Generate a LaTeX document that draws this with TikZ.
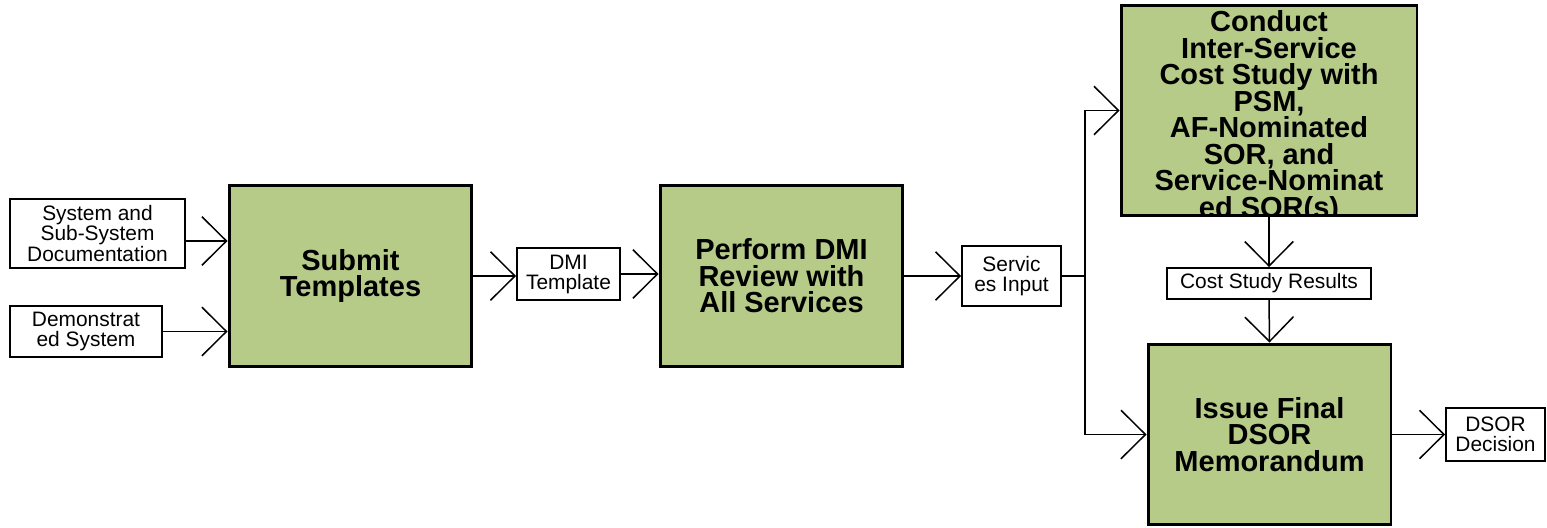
\documentclass[tikz,border=0pt]{standalone}
\usepackage{fontspec}
\setmainfont{Liberation Sans}
\usetikzlibrary{positioning, calc, arrows.meta}
\definecolor{taskgreen}{RGB}{183,203,137}

\begin{document}
\begin{tikzpicture}[x=0.02cm, y=-0.02cm,
    task/.style={draw, line width=1.7pt, fill=taskgreen, align=center, inner sep=0pt,
        font=\fontsize{16.5}{15.1}\selectfont\bfseries,
        minimum width=4.86cm, minimum height=3.64cm},
    data/.style={draw, line width=1.1pt, fill=white, align=center, inner sep=0pt,
        font=\fontsize{11.9}{11.4}\selectfont},
    flow/.style={line width=0.85pt, -{Straight Barb[length=0.49cm, width=0.97cm]}}]
    \useasboundingbox (0,0) rectangle (1547,527);

    % inputs and first step
    \node[data, minimum width=3.5cm, minimum height=1.38cm] (sysdoc) at (97.5,233.5)
        {System and\\Sub-System\\Documentation};
    \node[data, minimum width=3.04cm, minimum height=1.02cm] (demo) at (86,331.5)
        {Demonstrat\\ed System};
    \node[task] (submit) at (350.5,276) {Submit\\Templates};

    % review
    \node[data, minimum width=2.06cm, minimum height=1.04cm] (dmi) at (568.5,274)
        {DMI\\Template};
    \node[task] (review) at (781.5,276) {Perform DMI\\Review with\\All Services};
    \node[data, minimum width=1.98cm, minimum height=1.2cm] (servin) at (1011.5,276)
        {Servic\\es Input};

    % cost study and memorandum
    \node[task, minimum width=5.92cm, minimum height=4.22cm,
        path picture={\node[align=center, font=\fontsize{16.5}{15.1}\selectfont\bfseries]
            (conducttext) at ([yshift=-0.13cm]path picture bounding box.center)
            {Conduct\\Inter-Service\\Cost Study with\\PSM,\\AF-Nominated\\SOR, and\\Service-Nominat\\ed SOR(s)};}]
        (conduct) at (1269,110.5) {};
    \node[data, minimum width=4.08cm, minimum height=0.62cm] (costres) at (1269,283.5)
        {Cost Study Results};
    \node[task, minimum height=3.62cm] (issue) at (1269.5,434.5)
        {Issue Final\\DSOR\\Memorandum};
    \node[data, minimum width=1.98cm, minimum height=1.06cm] (dsor) at (1495.5,434.5)
        {DSOR\\Decision};

    % connectors
    \draw[flow] ([yshift=-0.15cm]sysdoc.east) coordinate (sysout) -- (sysout -| submit.west);
    \draw[flow] (demo.east) -- (demo.east -| submit.west);
    \draw[flow] (submit.east) -- (submit.east -| dmi.west);
    \draw[flow] (dmi.east) -- (dmi.east -| review.west);
    \draw[flow] (review.east) -- (servin.west);
    \coordinate (split) at ($(servin.east)+(23,0)$);
    \draw[line width=0.85pt] (servin.east) -- (split);
    \draw[flow] (split) |- (conduct.west);
    \draw[flow] (split) |- (issue.west);
    \draw[flow] (conduct.south) -- (costres.north);
    \draw[flow] (costres.south) -- (issue.north);
    \draw[flow] (issue.east) -- (dsor.west);
\end{tikzpicture}
\end{document}
